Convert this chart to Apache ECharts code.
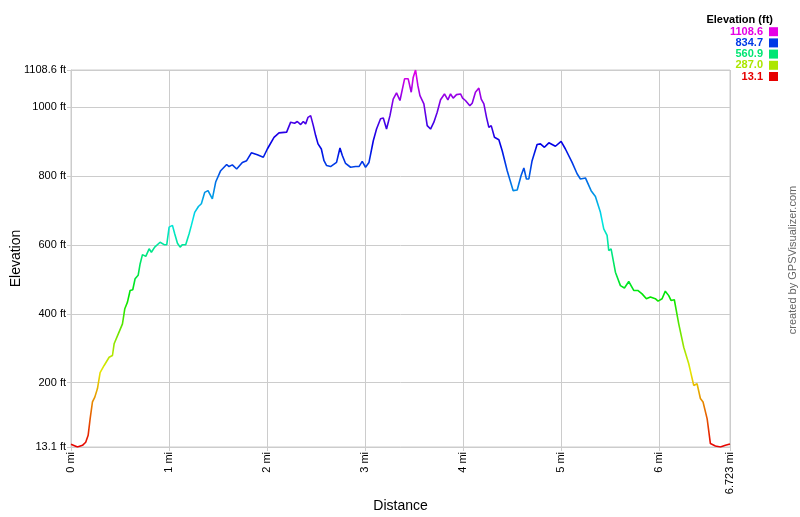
<!DOCTYPE html>
<html>
<head>
<meta charset="utf-8">
<script src="https://cdn.jsdelivr.net/npm/echarts@6/dist/echarts.min.js"></script>
<style>html,body{margin:0;padding:0;background:#fff}#c{width:800px;height:517px}</style>
</head>
<body>
<div id="c"></div>
<script>
const distance = [0,0.066,0.117,0.15,0.175,0.195,0.219,0.243,0.27,0.297,0.338,0.389,0.423,0.44,0.49,0.525,0.549,0.576,0.603,0.63,0.654,0.685,0.705,0.729,0.763,0.797,0.82,0.854,0.909,0.95,0.977,1.001,1.035,1.058,1.086,1.113,1.137,1.17,1.205,1.228,1.262,1.3,1.33,1.364,1.398,1.442,1.476,1.527,1.588,1.612,1.646,1.69,1.748,1.792,1.84,1.901,1.962,2.003,2.071,2.122,2.2,2.241,2.281,2.309,2.343,2.37,2.394,2.418,2.445,2.472,2.496,2.52,2.554,2.581,2.608,2.648,2.666,2.709,2.744,2.768,2.801,2.852,2.903,2.938,2.971,3.005,3.04,3.084,3.117,3.158,3.186,3.219,3.254,3.287,3.321,3.356,3.403,3.44,3.471,3.491,3.515,3.539,3.56,3.6,3.634,3.668,3.702,3.736,3.77,3.81,3.845,3.872,3.899,3.933,3.974,3.995,4.024,4.069,4.093,4.126,4.161,4.185,4.212,4.239,4.263,4.287,4.32,4.365,4.399,4.45,4.511,4.552,4.592,4.62,4.646,4.671,4.704,4.755,4.789,4.83,4.875,4.942,5.0,5.044,5.112,5.163,5.197,5.248,5.306,5.35,5.401,5.435,5.469,5.486,5.51,5.554,5.605,5.646,5.69,5.741,5.782,5.826,5.87,5.911,5.961,5.989,6.03,6.063,6.098,6.121,6.155,6.2,6.251,6.302,6.353,6.387,6.421,6.448,6.49,6.523,6.574,6.625,6.676,6.723];
const elevation = [21,13.1,18,27,47,95,144,158,183,229,250,274,279,313,347,371,415,434,468,470,502,512,545,572,567,589,579,594,608,601,601,652,657,633,605,594,601,601,633,657,695,712,720,753,758,734,783,816,834,828,833,821,840,845,868,862,855,879,913,926,928,957,954,959,950,959,952,971,976,947,918,894,879,845,831,828,828,840,882,860,837,826,828,828,843,826,840,903,937,967,969,937,976,1024,1042,1020,1083,1083,1044,1087,1108.6,1063,1034,1010,947,937,957,986,1022,1039,1022,1039,1027,1037,1039,1027,1020,1005,1012,1044,1056,1024,1010,971,942,947,913,906,874,816,758,760,802,824,792,792,845,892,894,884,897,887,901,879,840,807,792,795,758,741,695,647,628,584,589,521,482,475,494,468,468,458,444,449,444,437,444,466,453,439,441,371,303,255,192,197,154,144,95,23,16,13.1,18,22];
const yTicks = [13.1,200,400,600,800,1000,1108.6];
const xTicks = [0,1,2,3,4,5,6,6.723];
const legendValues = ['1108.6','834.7','560.9','287.0','13.1'];
const legendColors = ['#e600e6','#0039e6','#00e673','#ace600','#e60000'];
const rampColors = ['#e60000','#e6e600','#00e600','#00e6e6','#0000e6','#e600e6'];

const FONT = '"Liberation Sans", Arial, sans-serif';
const chart = echarts.init(document.getElementById('c'), null, {renderer:'canvas'});
const data = distance.map((d,i)=>[d, elevation[i]]);

const graphics = [
  {type:'text', x:773, y:20, style:{text:'Elevation (ft)', font:'bold 11px '+FONT, fill:'#000', textAlign:'right', textVerticalAlign:'middle'}},
  {type:'text', x:793, y:260, rotation:Math.PI/2, style:{text:'created by GPSVisualizer.com', font:'11px '+FONT, fill:'#666', textAlign:'center', textVerticalAlign:'middle'}}
];
legendValues.forEach((v,i)=>{
  const cy = 31.7 + i*11.2;
  graphics.push({type:'text', x:763, y:cy, style:{text:v, font:'bold 11px '+FONT, fill:legendColors[i], textAlign:'right', textVerticalAlign:'middle'}});
  graphics.push({type:'rect', shape:{x:769, y:cy-4.5, width:9, height:9}, style:{fill:legendColors[i]}});
});

chart.setOption({
  animation:false,
  backgroundColor:'#fff',
  grid:{left:71, right:70, top:70, bottom:70, containLabel:false, outerBoundsMode:'none', show:true, borderColor:'#cccccc', borderWidth:1},
  xAxis:{
    type:'value', min:0, max:6.723,
    name:'Distance', nameLocation:'middle', nameGap:52, nameMoveOverlap:false,
    nameTextStyle:{fontFamily:FONT, fontSize:14, color:'#000'},
    axisLine:{show:true, lineStyle:{color:'#cccccc'}},
    axisTick:{show:true, length:4, lineStyle:{color:'#cccccc'}, customValues:xTicks},
    axisLabel:{customValues:xTicks, rotate:90, margin:5, fontFamily:FONT, fontSize:11, color:'#000', formatter:v=>v+' mi'},
    splitLine:{show:true, lineStyle:{color:'#cccccc', width:1}}
  },
  yAxis:{
    type:'value', min:13.1, max:1108.6,
    name:'Elevation', nameLocation:'middle', nameGap:48, nameMoveOverlap:false,
    nameTextStyle:{fontFamily:FONT, fontSize:14, color:'#000'},
    axisLine:{show:true, lineStyle:{color:'#cccccc'}},
    axisTick:{show:true, length:4, lineStyle:{color:'#cccccc'}, customValues:yTicks},
    axisLabel:{customValues:yTicks, margin:5, fontFamily:FONT, fontSize:11, color:'#000', formatter:v=>v+' ft'},
    splitLine:{show:true, lineStyle:{color:'#cccccc', width:1}}
  },
  visualMap:{type:'continuous', show:false, dimension:1, seriesIndex:0, min:13.1, max:1108.6, inRange:{color:rampColors}},
  series:[{type:'line', data:data, showSymbol:false, symbol:'none', lineStyle:{width:1.6}}],
  graphic:graphics
});
</script>
</body>
</html>
